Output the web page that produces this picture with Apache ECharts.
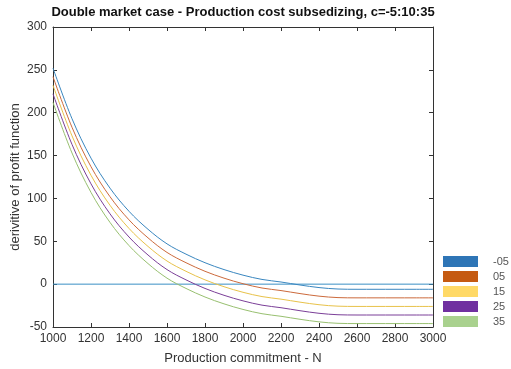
<!DOCTYPE html>
<html>
<head>
<meta charset="utf-8">
<script src="https://cdn.jsdelivr.net/npm/echarts@6/dist/echarts.min.js"></script>
<style>
html,body{margin:0;padding:0;background:#fff;}
#c{width:511px;height:369px;}
</style>
</head>
<body>
<div id="c"></div>
<script>
var N = [1000,1100,1200,1300,1400,1500,1600,1700,1800,1900,2000,2100,2200,2300,2400,2500,2600,2700,2800,2900,3000];
var cLabels = ['-05','05','15','25','35'];
var cNeg05 = [252,193,147,112,85,64,47,35,25,17,10.5,5.5,2.5,-1,-4,-5.7,-6,-6,-6,-6,-6];
var c05    = [242,183,137,102,75,54,37,25,15,7,0.5,-4.5,-7.5,-11,-14,-15.7,-16,-16,-16,-16,-16];
var c15    = [232,173,127,92,65,44,27,15,5,-3,-9.5,-14.5,-17.5,-21,-24,-25.7,-26,-26,-26,-26,-26];
var c25    = [222,163,117,82,55,34,17,5,-5,-13,-19.5,-24.5,-27.5,-31,-34,-35.7,-36,-36,-36,-36,-36];
var c35    = [212,153,107,72,45,24,7,-5,-15,-23,-29.5,-34.5,-37.5,-41,-44,-45.7,-46,-46,-46,-46,-46];
var zeroLine = [[1000,0],[3000,0]];

var lineColors = ['#3a87c0','#cc6a3c','#e8c24a','#7b3f98','#98c070'];
var legendColors = ['#2e75b6','#c55a11','#ffd966','#7030a0','#a9d18e'];
var allSeries = [cNeg05,c05,c15,c25,c35];

function pairs(arr){ return N.map(function(n,i){ return [n, arr[i]]; }); }

var series = allSeries.map(function(arr, i){
  return {
    name: cLabels[i], type: 'line', data: pairs(arr), showSymbol: false, smooth: 0.35,
    lineStyle: {width: 1, color: lineColors[i]},
    itemStyle: {color: legendColors[i]},
    z: 3 + i, emphasis: {disabled: true}
  };
});
series.push({
  name: 'zero', type: 'line', data: zeroLine, showSymbol: false,
  lineStyle: {width: 1, color: '#3a8fc4'}, z: 2, emphasis: {disabled: true}
});

var font = 'Liberation Sans, Arial, sans-serif';
var axisColor = '#333';
function plain(v){ return String(v); }
var chart = echarts.init(document.getElementById('c'), null, {renderer: 'canvas'});
chart.setOption({
  animation: false,
  backgroundColor: '#fff',
  title: {
    text: 'Double market case - Production cost subsedizing, c=-5:10:35',
    left: 243, top: 6, textAlign: 'center', padding: 0,
    textStyle: {fontFamily: font, fontSize: 13, fontWeight: 'bold', color: '#111'}
  },
  legend: {
    data: cLabels, orient: 'vertical', left: 443, top: 256, padding: 0,
    icon: 'rect', itemWidth: 35, itemHeight: 11, itemGap: 4,
    textStyle: {fontFamily: font, fontSize: 11, color: '#555', lineHeight: 11, padding: [0,0,0,10]},
    selectedMode: false
  },
  grid: {left: 53, right: 78, top: 27, bottom: 42, show: false, outerBoundsMode: 'none', containLabel: false},
  xAxis: [{
    type: 'value', min: 1000, max: 3000, interval: 200,
    name: 'Production commitment - N', nameLocation: 'middle', nameGap: 25, nameMoveOverlap: false,
    nameTextStyle: {fontFamily: font, fontSize: 13, color: '#333'},
    axisLine: {show: true, onZero: false, lineStyle: {color: axisColor, width: 1}},
    axisTick: {show: true, inside: true, length: 4, lineStyle: {color: axisColor}},
    axisLabel: {fontFamily: font, fontSize: 12, color: '#333', margin: 6, formatter: plain},
    splitLine: {show: false}
  },{
    type: 'value', min: 1000, max: 3000, interval: 200, position: 'top',
    axisLine: {show: true, onZero: false, lineStyle: {color: axisColor, width: 1}},
    axisTick: {show: true, inside: true, length: 4, lineStyle: {color: axisColor}},
    axisLabel: {show: false}, splitLine: {show: false}
  }],
  yAxis: [{
    type: 'value', min: -50, max: 300, interval: 50,
    name: 'derivitive of profit function', nameLocation: 'middle', nameGap: 31, nameMoveOverlap: false,
    nameTextStyle: {fontFamily: font, fontSize: 13, color: '#333'},
    axisLine: {show: true, onZero: false, lineStyle: {color: axisColor, width: 1}},
    axisTick: {show: true, inside: true, length: 4, lineStyle: {color: axisColor}},
    axisLabel: {fontFamily: font, fontSize: 12, color: '#333', margin: 6, formatter: plain},
    splitLine: {show: false}
  },{
    type: 'value', min: -50, max: 300, interval: 50, position: 'right',
    axisLine: {show: true, onZero: false, lineStyle: {color: axisColor, width: 1}},
    axisTick: {show: true, inside: true, length: 4, lineStyle: {color: axisColor}},
    axisLabel: {show: false}, splitLine: {show: false}
  }],
  series: series
});
</script>
</body>
</html>
